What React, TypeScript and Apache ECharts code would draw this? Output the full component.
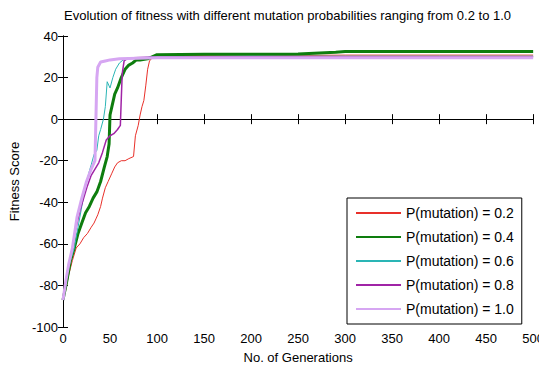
import React, { useEffect, useRef } from "react";
import * as echarts from "echarts";

const seriesNames = [
  "P(mutation) = 0.2",
  "P(mutation) = 0.4",
  "P(mutation) = 0.6",
  "P(mutation) = 0.8",
  "P(mutation) = 1.0",
];

const gen02 = [0, 3, 6, 10, 14, 18, 22, 26, 30, 33, 35, 37, 40, 42, 45, 48, 52, 55, 58, 62, 66, 70, 75, 77, 80, 82, 84, 86, 88, 90, 92, 95, 98, 100, 130, 200, 300, 400, 500];
const fit02 = [-87, -82, -75, -68, -62, -60, -57, -55, -52, -50, -48, -46, -42, -38, -33, -30, -26, -23, -21, -20, -20, -19, -18, -8, -3, 2, 6, 9, 16, 24, 28, 29.5, 30, 30.5, 30.5, 30.5, 30.8, 30.8, 30.8];

const gen04 = [0, 4, 8, 12, 16, 20, 24, 28, 32, 36, 40, 44, 47, 49, 50, 52, 55, 58, 62, 66, 70, 74, 78, 82, 90, 100, 150, 250, 290, 300, 400, 500];
const fit04 = [-87, -78, -68, -62, -55, -50, -45, -42, -38, -35, -30, -23, -18, -12, 2, 6, 12, 15, 20, 24, 26, 27, 28.5, 28.5, 29, 31, 31.2, 31.3, 32.2, 32.5, 32.5, 32.5];

const gen06 = [0, 4, 8, 12, 16, 20, 24, 28, 30, 33, 36, 38, 40, 43, 45, 47, 50, 53, 56, 60, 64, 70, 80, 100, 200, 300, 500];
const fit06 = [-87, -75, -68, -62, -52, -42, -32, -25, -22, -17, -15, -8, -5, 0, 6, 18, 15, 20, 24, 27, 28.5, 29, 29.5, 30, 30.3, 30.3, 30.3];

const gen08 = [0, 3, 6, 10, 14, 18, 22, 26, 30, 34, 38, 42, 46, 50, 54, 58, 61, 62, 63, 65, 68, 75, 90, 150, 300, 500];
const fit08 = [-87, -78, -70, -62, -52, -44, -38, -32, -27, -24, -21, -16, -10, -8, -7, -5, -3, 10, 22, 28, 29, 29.5, 29.8, 30, 30, 30];

const gen10 = [0, 3, 6, 10, 15, 20, 25, 30, 34, 35, 36, 37, 40, 45, 50, 60, 80, 100, 200, 500];
const fit10 = [-87, -78, -70, -62, -47, -38, -30, -24, -20, 0, 20, 25, 27.5, 28, 28.5, 29, 29.3, 29.5, 29.5, 29.5];

const xTicks = { min: 0, max: 500, interval: 50 };
const yTicks = { min: -100, max: 40, interval: 20 };

const gens = [gen02, gen04, gen06, gen08, gen10];
const fits = [fit02, fit04, fit06, fit08, fit10];
const colors = ["#e8302a", "#0e7d0e", "#2ab5b5", "#a024a6", "#d6a6f2"];
const widths = [1, 3, 1, 1.5, 3];

const FONT = "'Liberation Sans', Arial, sans-serif";

export default function App() {
  const ref = useRef<HTMLDivElement>(null);
  useEffect(() => {
    if (!ref.current) return;
    const chart = echarts.init(ref.current, null, { renderer: "svg" });
    const baseAxis = {
      axisLine: { show: true, lineStyle: { color: "#000", width: 1 } },
      axisTick: { show: true, inside: true, length: 5, lineStyle: { color: "#000" } },
      splitLine: { show: false },
    };
    chart.setOption({
      animation: false,
      backgroundColor: "#fff",
      textStyle: { fontFamily: FONT },
      title: {
        text: "Evolution of fitness with different mutation probabilities ranging from 0.2 to 1.0",
        left: 59,
        top: 4,
        textStyle: { fontSize: 13, fontWeight: "normal", color: "#000", fontFamily: FONT },
      },
      grid: { left: 63, right: 10, top: 36, bottom: 43, containLabel: false },
      legend: {
        orient: "vertical",
        left: 347,
        top: 198,
        padding: [8, 8],
        itemGap: 10,
        itemWidth: 45,
        itemHeight: 14,
        borderColor: "#000",
        borderWidth: 1,
        backgroundColor: "#fff",
        itemStyle: { opacity: 0 },
        textStyle: { fontSize: 14, color: "#000", fontFamily: FONT },
        data: seriesNames,
      },
      xAxis: [
        {
          ...baseAxis,
          type: "value",
          min: xTicks.min,
          max: xTicks.max,
          interval: xTicks.interval,
          name: "No. of Generations",
          nameLocation: "middle",
          nameGap: 24,
          nameTextStyle: { fontSize: 13, color: "#000", fontFamily: FONT },
          axisLabel: { fontSize: 13, color: "#000", margin: 5, fontFamily: FONT },
        },
        {
          ...baseAxis,
          type: "value",
          position: "top",
          min: xTicks.min,
          max: xTicks.max,
          interval: xTicks.interval,
          axisLabel: { show: false },
        },
      ],
      yAxis: [
        {
          ...baseAxis,
          type: "value",
          min: yTicks.min,
          max: yTicks.max,
          interval: yTicks.interval,
          name: "Fitness Score",
          nameLocation: "middle",
          nameGap: 36,
          nameTextStyle: { fontSize: 13, color: "#000", fontFamily: FONT },
          axisLabel: { fontSize: 13, color: "#000", margin: 5, fontFamily: FONT },
        },
        {
          ...baseAxis,
          type: "value",
          position: "right",
          min: yTicks.min,
          max: yTicks.max,
          interval: yTicks.interval,
          axisLabel: { show: false },
        },
      ],
      series: seriesNames.map((name, i) => ({
        name,
        type: "line",
        xAxisIndex: 0,
        yAxisIndex: 0,
        showSymbol: false,
        symbol: "none",
        color: colors[i],
        lineStyle: { color: colors[i], width: widths[i] },
        data: gens[i].map((g, j) => [g, fits[i][j]]),
      })),
    });
    return () => chart.dispose();
  }, []);
  return <div ref={ref} style={{ width: 547, height: 370, margin: -8 }} />;
}
